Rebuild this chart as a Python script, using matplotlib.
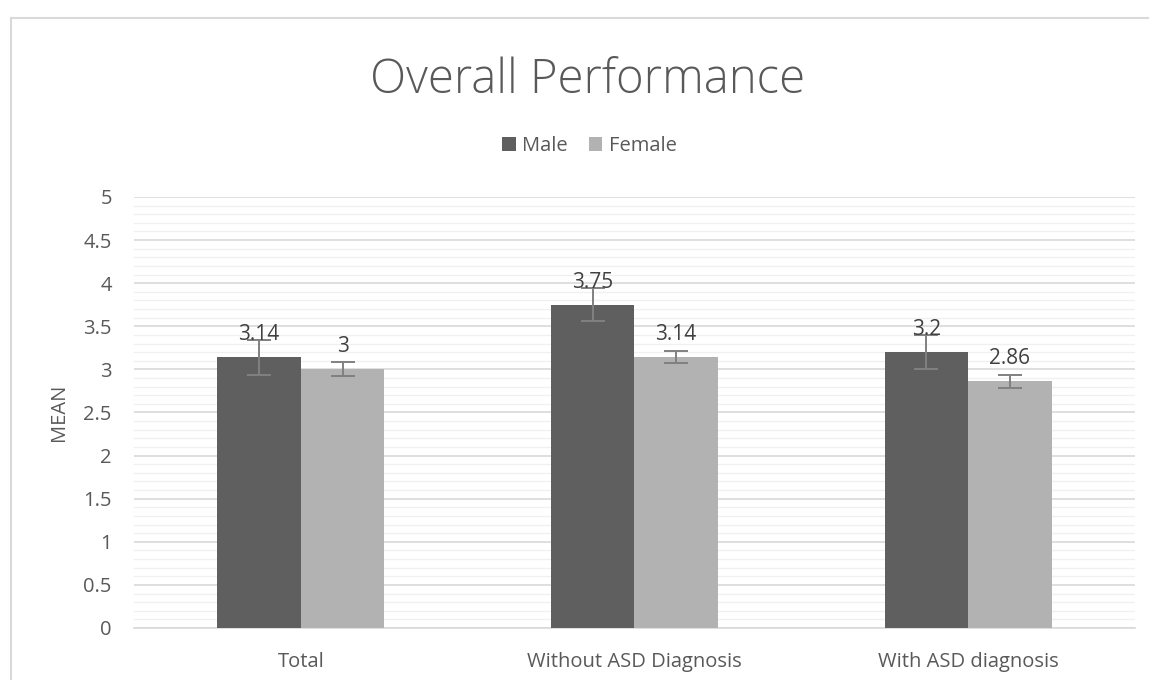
import matplotlib
matplotlib.use("Agg")
import matplotlib.pyplot as plt
import numpy as np
from matplotlib.lines import Line2D
from matplotlib.ticker import MultipleLocator

categories = ["Total", "Without ASD Diagnosis", "With ASD diagnosis"]
series_names = ["Male", "Female"]
male_values = [3.14, 3.75, 3.2]
female_values = [3.0, 3.14, 2.86]
male_errors = [0.2, 0.19, 0.2]
female_errors = [0.08, 0.07, 0.08]
yticks = [0, 0.5, 1, 1.5, 2, 2.5, 3, 3.5, 4, 4.5, 5]
ytick_labels = ["0", "0.5", "1", "1.5", "2", "2.5", "3", "3.5", "4", "4.5", "5"]

plt.rcParams['font.family'] = ['Open Sans', 'DejaVu Sans']
text_color = "#595959"
male_color = "#5f5f5f"
female_color = "#b2b2b2"

fig = plt.figure(figsize=(11.49, 6.8), dpi=100)
ax = fig.add_axes([0.1166, 0.0765, 0.8712, 0.6338])

x = np.arange(len(categories))
w = 0.25
bm = ax.bar(x - w/2, male_values, w, color=male_color, label=series_names[0], zorder=3)
bf = ax.bar(x + w/2, female_values, w, color=female_color, label=series_names[1], zorder=3)
ax.errorbar(x - w/2, male_values, yerr=male_errors, fmt='none', ecolor="#808080",
            elinewidth=1.4, capsize=8.5, capthick=1.4, zorder=4)
ax.errorbar(x + w/2, female_values, yerr=female_errors, fmt='none', ecolor="#808080",
            elinewidth=1.4, capsize=8.5, capthick=1.4, zorder=4)

for xi, v in zip(x - w/2, male_values):
    ax.text(xi, v + 0.14, f"{v:g}", ha='center', va='bottom', fontsize=15, color="#404040", zorder=5)
for xi, v in zip(x + w/2, female_values):
    ax.text(xi, v + 0.14, f"{v:g}", ha='center', va='bottom', fontsize=15, color="#404040", zorder=5)

ax.set_xlim(-0.5, 2.5)
ax.set_ylim(0, 5)
ax.set_yticks(yticks)
ax.set_yticklabels(ytick_labels)
ax.yaxis.set_minor_locator(MultipleLocator(0.1))
ax.grid(axis='y', which='major', color="#d9d9d9", linewidth=1.2, zorder=0)
ax.grid(axis='y', which='minor', color="#f0f0f0", linewidth=1.0, zorder=0)
ax.set_axisbelow(True)
ax.set_xticks(x)
ax.set_xticklabels(categories)
for s in ["top", "right", "left"]:
    ax.spines[s].set_visible(False)
ax.spines["bottom"].set_color("#d9d9d9")
ax.spines["bottom"].set_linewidth(1.2)
ax.tick_params(axis='both', which='both', length=0, labelsize=14.5, colors=text_color)
ax.tick_params(axis='y', pad=16)
ax.tick_params(axis='x', pad=17)
ax.set_ylabel("MEAN", fontsize=14.5, color=text_color, labelpad=10)

fig.text(0.511, 0.881, "Overall Performance", ha='center', va='center', fontsize=34,
         color=text_color, fontweight='light')

leg = fig.legend(handles=[bm, bf], labels=series_names, loc='center', bbox_to_anchor=(0.513, 0.785),
                 ncol=2, frameon=False, fontsize=14.5, handlelength=0.65, handleheight=0.65,
                 handletextpad=0.3, columnspacing=1.1)
for t in leg.get_texts():
    t.set_color(text_color)

# chart frame (top and left edges visible)
fig.add_artist(Line2D([10.5/1149, 1.0], [1 - 17.5/680, 1 - 17.5/680], color="#d9d9d9", linewidth=1.5))
fig.add_artist(Line2D([10.5/1149, 10.5/1149], [0, 1 - 17.5/680], color="#d9d9d9", linewidth=1.5))

fig.savefig("out.png", dpi=100)
